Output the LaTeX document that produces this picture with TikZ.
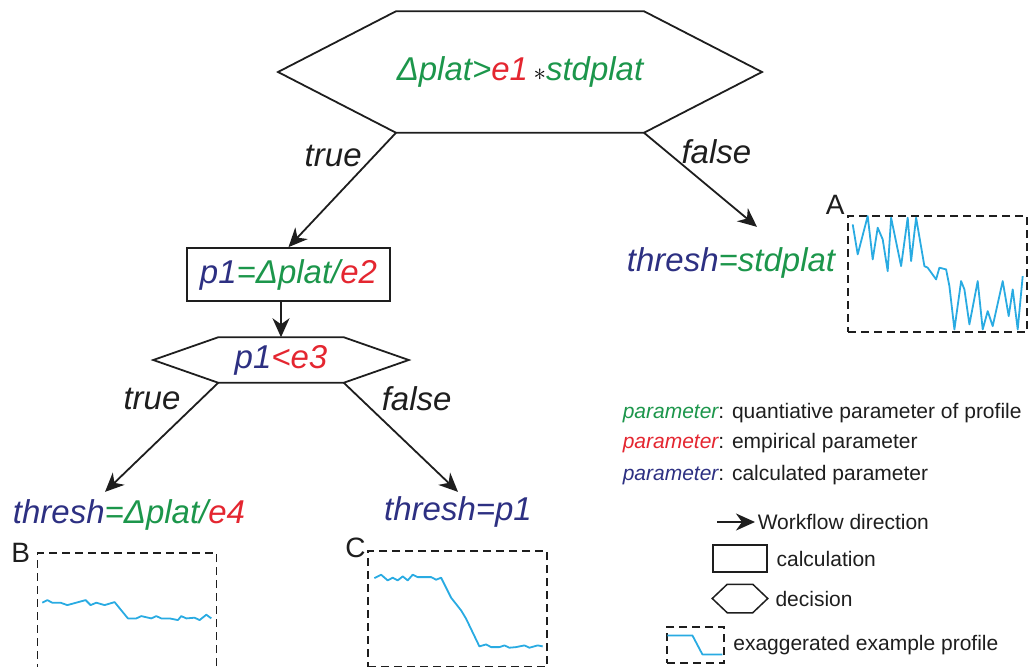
\documentclass[tikz,border=0pt]{standalone}
\usepackage{fontspec}
\setmainfont{Liberation Sans}
\usepackage{xcolor}
\usetikzlibrary{
    arrows.meta,
    calc,
    positioning
}

\definecolor{qgreen}{RGB}{28,150,75}
\definecolor{ered}{RGB}{228,38,48}
\definecolor{cblue}{RGB}{45,48,130}
\definecolor{profblue}{RGB}{41,171,226}
\definecolor{inkgray}{RGB}{30,30,30}

% parameter kinds
\newcommand{\qpar}[1]{\textcolor{qgreen}{#1}}
\newcommand{\epar}[1]{\textcolor{ered}{#1}}
\newcommand{\cpar}[1]{\textcolor{cblue}{#1}}

\tikzset{
    formula/.style={font=\fontsize{33}{40}\selectfont\itshape, inner sep=2pt},
    branch/.style={font=\fontsize{33}{40}\selectfont\itshape, text=inkgray, inner sep=2pt},
    legend/.style={font=\fontsize{21}{25}\selectfont, text=inkgray, inner sep=2pt},
    flow/.style={draw=inkgray, line width=1.8pt, -{Stealth[length=19pt, width=17pt, inset=6pt]}},
    profbox/.style={draw=inkgray, dash pattern=on 8pt off 5pt, line width=1.2pt,
        minimum width=179pt, minimum height=116pt, inner sep=0pt},
    profile/.style={draw=profblue, line width=1.8pt, line join=round},
    boxlabel/.style={font=\fontsize{28}{32}\selectfont, text=inkgray, inner sep=0pt}
}

\begin{document}
\begin{tikzpicture}[x=1pt, y=-1pt, line width=1.5pt]
    \useasboundingbox (0,0) rectangle (1029,667);

    % decisions and calculations
    \node[formula, minimum width=240pt, minimum height=120pt, inner sep=0pt] (dec1) at (520,72)
        {\qpar{Δplat>}\epar{e1}\,{\upshape$\ast$}\qpar{stdplat}};
    \draw[draw=inkgray, line width=1.8pt] (dec1.north west) -- (dec1.north east) -- ([xshift=118pt]dec1.east)
        -- (dec1.south east) -- (dec1.south west) -- ([xshift=-118pt]dec1.west) -- cycle;

    \node[formula, draw=inkgray, line width=1.8pt, minimum width=203pt, minimum height=53pt] (calc1) at (288.5,274.5)
        {\cpar{p1}\qpar{=Δplat/}\epar{e2}};

    \node[formula, minimum width=124pt, minimum height=44pt, inner sep=0pt] (dec2) at (281,360)
        {\cpar{p1}\epar{<e3}};
    \draw[draw=inkgray, line width=1.8pt] (dec2.north west) -- (dec2.north east) -- ([xshift=65pt]dec2.east)
        -- (dec2.south east) -- (dec2.south west) -- ([xshift=-65pt]dec2.west) -- cycle;

    \node[formula] (thrA) at (731,263) {\cpar{thresh}\qpar{=stdplat}};
    \node[formula] (thrB) at (129,515) {\cpar{thresh}\qpar{=Δplat/}\epar{e4}};
    \node[formula] (thrC) at (458,512) {\cpar{thresh=p1}};

    \draw
    (dec1.south west) edge[flow] node[branch, pos=0.2, left=10pt]{true} (calc1.north)
    (dec1.south east) edge[flow] node[branch, pos=0.2, right=12pt]{false} ([xshift=26pt, yshift=18pt]thrA.north)
    (dec2.north |- calc1.south) edge[flow] (dec2.north)
    (dec2.south west) edge[flow] node[branch, pos=0.15, left=18pt]{true} ([xshift=-24pt, yshift=5pt]thrB.north)
    (dec2.south east) edge[flow] node[branch, pos=0.15, right=18pt]{false} ([yshift=2pt]thrC.north);

    % example profiles
    \node[profbox] (boxA) at (937.5,274) {};
    \node[profbox] (boxB) at (127,611) {};
    \node[profbox] (boxC) at (457.5,609) {};
    \node[boxlabel, anchor=south east] (labA) at ([xshift=-2pt]boxA.north west) {A};
    \node[boxlabel, anchor=east] (labB) at ([xshift=-6pt]boxB.north west) {B};
    \node[boxlabel, anchor=east] (labC) at ([xshift=-1pt, yshift=3pt]boxC.north west) {C};

    \draw[profile, shift={(boxA.north west)}] plot coordinates {
        (5.3,9) (10.3,39) (20.3,0.7) (25.3,44) (30.3,12.3) (35.3,24) (40.3,55.7) (43.7,2.3)
        (53.7,50.7) (60.3,2.3) (63.7,45.7) (68.7,2.3) (77,50.7) (80.3,52.3) (88.7,64) (92,52.3)
        (98.7,54) (102,70.7) (107,114) (113.7,65.7) (117,74) (122,109) (130.3,65.7) (135.3,114)
        (140.3,95.7) (145.3,110.7) (155.3,65.7) (161.3,100.7) (165.3,74) (170.3,114) (175.3,60.7)};
    \draw[profile, shift={(boxB.north west)}] plot coordinates {
        (5.4,50.3) (10.4,47.7) (15.4,50.3) (23.7,50.3) (30.4,52.7) (48.7,47.7) (53.7,52.7) (59.4,50.3)
        (67.7,52.7) (77.7,49.7) (91,66) (99.4,66) (104.4,63.7) (114.4,66) (119.4,63.7) (124.4,66)
        (132.7,66) (141,67.7) (144.4,63.7) (149.4,66) (157.7,65.3) (162.7,67.7) (169.4,62.3) (174.4,66)};
    \draw[profile, shift={(boxC.north west)}] plot coordinates {
        (7,27.7) (13.7,24.3) (20.3,30) (25.3,27.3) (30.3,30) (35.3,26) (40.3,30) (45.3,24.3)
        (50.3,26.7) (63.7,26.7) (68.7,29.3) (73.7,27.3) (83.7,47.3) (93.7,60) (98.7,68.3) (112,96)
        (118.7,94) (123.7,96.7) (132,96.7) (137,95) (142,97.3) (148.7,96.7) (157,95) (162,97.3)
        (170.3,95) (175.3,96)};

    % legend
    \node[legend, anchor=west] (lgq) at (620,413) {\textit{\qpar{parameter}}: quantiative parameter of profile};
    \node[legend, anchor=west] (lge) at (620,443) {\textit{\epar{parameter}}: empirical parameter};
    \node[legend, anchor=west] (lgc) at (620,475) {\textit{\cpar{parameter}}: calculated parameter};

    \node[legend, anchor=west] (lgflow) at (755,522) {Workflow direction};
    \draw ([xshift=-38pt]lgflow.west) edge[flow] (lgflow.west);

    \node[draw=inkgray, line width=1.8pt, minimum width=54pt, minimum height=27pt] (lgbox) at (740,558.5) {};
    \node[legend, right=6pt of lgbox] (lgcalc) {calculation};

    \node[minimum width=24pt, minimum height=27pt, inner sep=0pt] (lghex) at (740,598.5) {};
    \draw[draw=inkgray, line width=1.5pt] (lghex.north west) -- (lghex.north east) -- ([xshift=15pt]lghex.east)
        -- (lghex.south east) -- (lghex.south west) -- ([xshift=-15pt]lghex.west) -- cycle;
    \node[legend, right=20pt of lghex] (lgdec) {decision};

    \node[profbox, minimum width=57pt, minimum height=36pt] (lgprof) at (695.5,645) {};
    \draw[profile, shift={(lgprof.north west)}] (1,9) -- (26,9) -- (36,28) -- (56,28);
    \node[legend, right=6pt of lgprof] (lgexag) {exaggerated example profile};
\end{tikzpicture}
\end{document}
